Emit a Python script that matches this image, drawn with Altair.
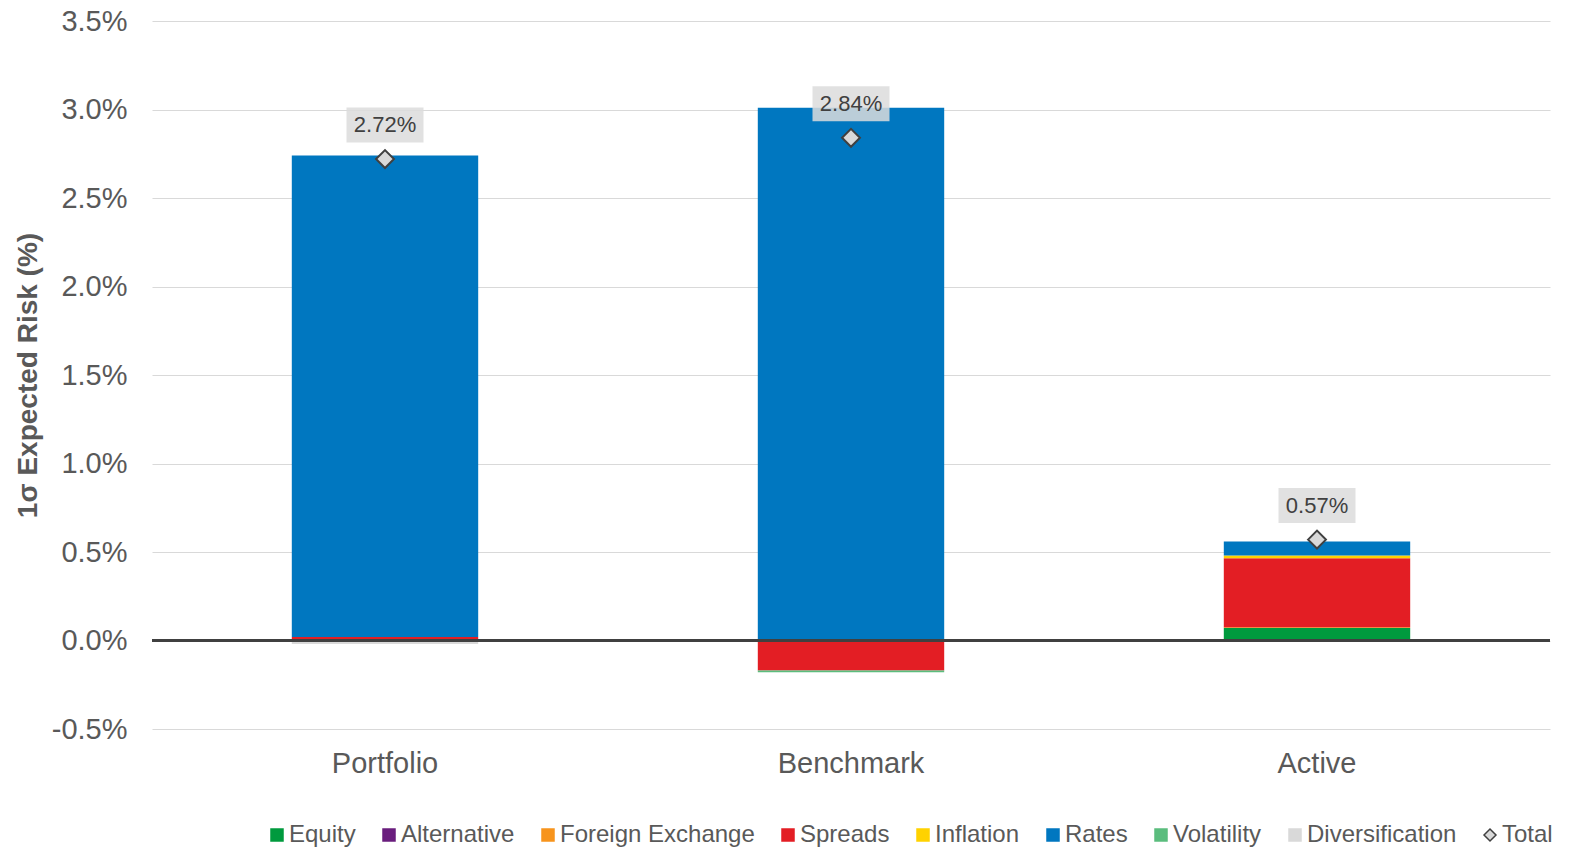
import altair as alt
import pandas as pd

# Risk decomposition by factor (in % of 1-sigma expected risk)
categories = ["Portfolio", "Benchmark", "Active"]
series_names = ["Equity", "Alternative", "Foreign Exchange", "Spreads",
                "Inflation", "Rates", "Volatility", "Diversification"]
series_colors = ["#009a3e", "#6a1e7e", "#f7941d", "#e31e24",
                 "#ffd200", "#0077c0", "#5bbd7e", "#d9d9d9"]

equity = [0.0, 0.0, 0.07]
alternative = [0.0, 0.0, 0.0]
foreign_exchange = [0.0, 0.0, 0.005]
spreads = [0.02, -0.17, 0.39]
inflation = [0.0, 0.0, 0.015]
rates = [2.72, 3.01, 0.08]
volatility = [0.0, -0.01, 0.0]
diversification = [-0.02, 0.0, 0.0]
totals = [2.72, 2.84, 0.57]

tick_values = [-0.5, 0.0, 0.5, 1.0, 1.5, 2.0, 2.5, 3.0, 3.5]

FONT = "Liberation Sans"
TEXT_GREY = "#595959"

series_values = [equity, alternative, foreign_exchange, spreads,
                 inflation, rates, volatility, diversification]
rows = []
for idx, (name, vals) in enumerate(zip(series_names, series_values)):
    for cat, v in zip(categories, vals):
        if v != 0:
            rows.append({"category": cat, "series": name, "value": v, "idx": idx})
df = pd.DataFrame(rows)

tot_df = pd.DataFrame({"category": categories, "total": totals,
                       "series": ["Total"] * len(categories)})

legend_domain = series_names + ["Total"]
fill_scale = alt.Scale(domain=legend_domain, range=series_colors + ["#d9d9d9"])
stroke_scale = alt.Scale(domain=legend_domain, range=series_colors + ["#404040"])
shape_scale = alt.Scale(domain=legend_domain, range=["square"] * 8 + ["diamond"])

x_enc = alt.X(
    "category:N", sort=categories,
    scale=alt.Scale(paddingInner=0.6, paddingOuter=0.3),
    axis=alt.Axis(title=None, labelAngle=0, domain=False, ticks=False,
                  labelFontSize=29, labelColor=TEXT_GREY, labelFont=FONT,
                  labelPadding=20),
)
y_scale = alt.Scale(domain=[-0.5, 3.5], nice=False, zero=False)
y_axis = alt.Axis(
    title="1σ Expected Risk (%)", titleFontSize=28, titleFontWeight="bold",
    titleColor=TEXT_GREY, titleFont=FONT, titlePadding=9,
    values=tick_values,
    labelExpr="(datum.value < 0 ? '-' : '') + format(abs(datum.value), '.1f') + '%'",
    labelFontSize=29, labelColor=TEXT_GREY, labelFont=FONT, labelPadding=25,
    domain=False, ticks=False, grid=True, gridColor="#d9d9d9", gridWidth=1,
)

bars = alt.Chart(df).mark_bar().encode(
    x=x_enc,
    y=alt.Y("value:Q", stack="zero", scale=y_scale, axis=y_axis),
    fill=alt.Fill("series:N", scale=fill_scale, legend=alt.Legend(title=None)),
    order=alt.Order("idx:Q", sort="ascending"),
)

zero_line = alt.Chart(tot_df).mark_rule(color="#404040", strokeWidth=3).encode(
    y=alt.datum(0)
)

boxes = alt.Chart(tot_df).mark_point(
    filled=True, shape="M-1,-0.4545L1,-0.4545L1,0.4545L-1,0.4545Z",
    size=5929, color="#dcdcdc", opacity=0.85, strokeWidth=0, yOffset=-34,
).encode(x=alt.X("category:N", sort=categories), y=alt.Y("total:Q"))

diamonds = alt.Chart(tot_df).mark_point(filled=True, size=320, strokeWidth=2, opacity=1).encode(
    x=alt.X("category:N", sort=categories),
    y=alt.Y("total:Q"),
    fill=alt.Fill("series:N", scale=fill_scale, legend=alt.Legend(title=None)),
    stroke=alt.Stroke("series:N", scale=stroke_scale, legend=alt.Legend(title=None)),
    shape=alt.Shape("series:N", scale=shape_scale, legend=alt.Legend(title=None)),
)

labels = alt.Chart(tot_df).transform_calculate(
    label="format(datum.total, '.2f') + '%'"
).mark_text(dy=-34, fontSize=22, color="#404040", font=FONT).encode(
    x=alt.X("category:N", sort=categories),
    y=alt.Y("total:Q"),
    text="label:N",
)

chart = alt.layer(bars, zero_line, boxes, diamonds, labels).properties(
    width=1398, height=708,
    padding={"left": 152, "top": 21, "right": 24, "bottom": 123},
    autosize=alt.AutoSizeParams(type="none"),
).configure_view(stroke=None).configure_legend(
    orient="none", legendX=113, legendY=802, direction="horizontal",
    columns=9, labelFontSize=24, labelColor=TEXT_GREY, labelFont=FONT,
    symbolSize=144, symbolStrokeWidth=1.5, columnPadding=21, labelOffset=0,
    labelLimit=400,
)

chart.save("out.html", embed_options={"renderer": "svg", "actions": False})
